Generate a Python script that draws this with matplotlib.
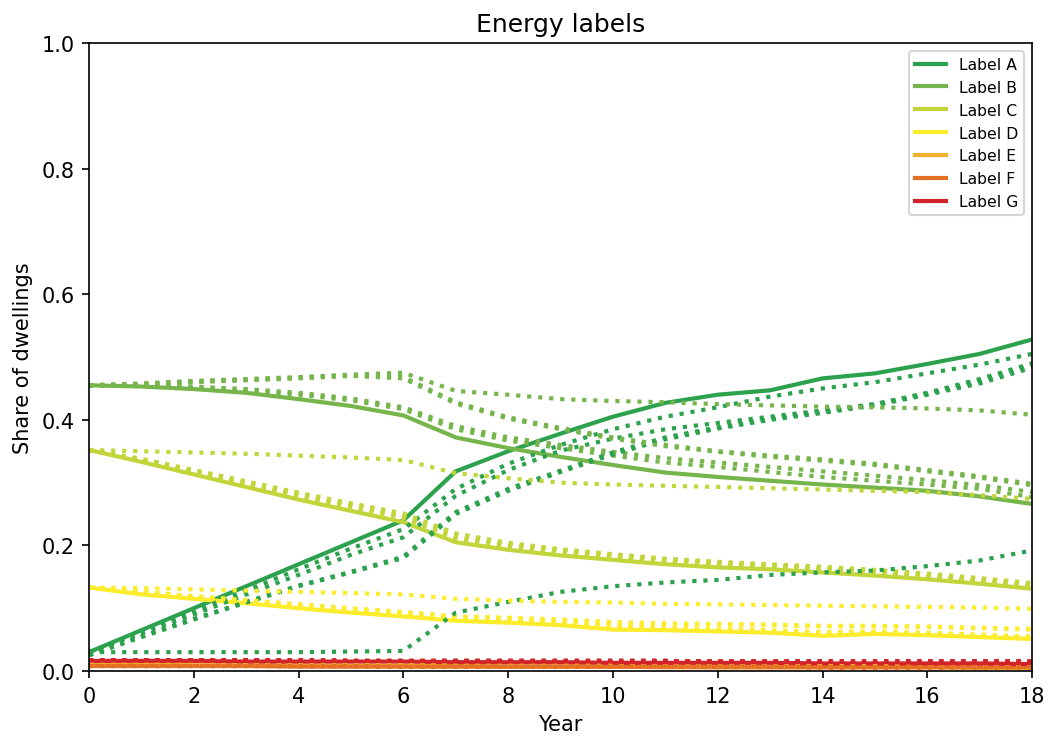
import numpy as np
import matplotlib
matplotlib.use('Agg')
import matplotlib.pyplot as plt

years = np.arange(0, 19)
labels = ['Label A', 'Label B', 'Label C', 'Label D', 'Label E', 'Label F', 'Label G']
colors = ['#2ca24f', '#76b54b', '#c2d63c', '#fcec2b', '#f0b12c', '#e66f26', '#d2232a']

# reference run (solid)
A_base = [0.030, 0.065, 0.100, 0.135, 0.170, 0.205, 0.240, 0.318, 0.350, 0.378, 0.405, 0.427, 0.440, 0.447, 0.466, 0.474, 0.489, 0.505, 0.528]
B_base = [0.455, 0.453, 0.449, 0.443, 0.433, 0.422, 0.407, 0.372, 0.355, 0.341, 0.328, 0.316, 0.309, 0.303, 0.297, 0.292, 0.287, 0.278, 0.266]
C_base = [0.352, 0.333, 0.313, 0.293, 0.273, 0.255, 0.237, 0.205, 0.193, 0.184, 0.177, 0.170, 0.165, 0.162, 0.157, 0.152, 0.146, 0.139, 0.131]
D_base = [0.133, 0.122, 0.115, 0.108, 0.100, 0.093, 0.087, 0.080, 0.077, 0.073, 0.066, 0.065, 0.063, 0.061, 0.056, 0.059, 0.057, 0.054, 0.051]
E_base = [0.010, 0.010, 0.009, 0.009, 0.009, 0.008, 0.008, 0.008, 0.007, 0.007, 0.007, 0.007, 0.006, 0.006, 0.006, 0.006, 0.006, 0.005, 0.005]
F_base = [0.008, 0.008, 0.008, 0.008, 0.007, 0.007, 0.007, 0.007, 0.007, 0.007, 0.007, 0.006, 0.006, 0.006, 0.006, 0.006, 0.006, 0.006, 0.006]
G_base = [0.016, 0.016, 0.016, 0.015, 0.015, 0.015, 0.015, 0.014, 0.014, 0.014, 0.013, 0.013, 0.013, 0.013, 0.012, 0.012, 0.012, 0.012, 0.011]

# scenario runs (dotted)
A_s1 = [0.030, 0.063, 0.095, 0.128, 0.162, 0.195, 0.226, 0.290, 0.330, 0.360, 0.385, 0.405, 0.420, 0.437, 0.450, 0.460, 0.474, 0.488, 0.505]
A_s2 = [0.030, 0.060, 0.090, 0.122, 0.153, 0.185, 0.213, 0.279, 0.320, 0.351, 0.370, 0.385, 0.395, 0.405, 0.415, 0.425, 0.443, 0.465, 0.490]
A_s3 = [0.025, 0.055, 0.083, 0.110, 0.136, 0.158, 0.182, 0.253, 0.290, 0.319, 0.348, 0.372, 0.388, 0.402, 0.413, 0.425, 0.442, 0.462, 0.487]
A_s4 = [0.025, 0.054, 0.082, 0.109, 0.135, 0.157, 0.180, 0.250, 0.287, 0.317, 0.345, 0.369, 0.386, 0.400, 0.411, 0.423, 0.440, 0.458, 0.483]
A_s5 = [0.030, 0.030, 0.030, 0.030, 0.030, 0.031, 0.032, 0.093, 0.110, 0.126, 0.135, 0.141, 0.145, 0.153, 0.157, 0.160, 0.167, 0.176, 0.192]

B_s1 = [0.455, 0.454, 0.452, 0.447, 0.440, 0.431, 0.417, 0.385, 0.367, 0.355, 0.343, 0.332, 0.325, 0.317, 0.309, 0.303, 0.297, 0.290, 0.277]
B_s2 = [0.455, 0.455, 0.453, 0.449, 0.443, 0.434, 0.420, 0.390, 0.372, 0.360, 0.349, 0.339, 0.332, 0.325, 0.318, 0.311, 0.304, 0.296, 0.285]
B_s3 = [0.455, 0.457, 0.461, 0.464, 0.467, 0.471, 0.468, 0.428, 0.404, 0.387, 0.372, 0.360, 0.350, 0.343, 0.337, 0.330, 0.320, 0.310, 0.298]
B_s4 = [0.455, 0.457, 0.460, 0.463, 0.466, 0.470, 0.466, 0.426, 0.402, 0.385, 0.370, 0.358, 0.349, 0.341, 0.335, 0.328, 0.318, 0.308, 0.296]
B_s5 = [0.455, 0.458, 0.462, 0.465, 0.468, 0.472, 0.475, 0.446, 0.440, 0.433, 0.430, 0.428, 0.425, 0.423, 0.421, 0.420, 0.418, 0.415, 0.408]

C_s1 = [0.352, 0.335, 0.316, 0.297, 0.278, 0.261, 0.244, 0.211, 0.198, 0.189, 0.181, 0.174, 0.169, 0.166, 0.161, 0.156, 0.150, 0.143, 0.135]
C_s2 = [0.352, 0.336, 0.317, 0.299, 0.280, 0.263, 0.246, 0.213, 0.200, 0.191, 0.183, 0.176, 0.171, 0.168, 0.163, 0.158, 0.152, 0.145, 0.137]
C_s3 = [0.352, 0.337, 0.319, 0.301, 0.283, 0.266, 0.250, 0.218, 0.203, 0.193, 0.185, 0.178, 0.173, 0.169, 0.165, 0.160, 0.154, 0.147, 0.139]
C_s4 = [0.352, 0.338, 0.320, 0.302, 0.284, 0.267, 0.251, 0.219, 0.204, 0.194, 0.186, 0.179, 0.174, 0.170, 0.166, 0.161, 0.155, 0.148, 0.140]
C_s5 = [0.352, 0.350, 0.348, 0.346, 0.343, 0.340, 0.336, 0.315, 0.307, 0.300, 0.297, 0.295, 0.293, 0.291, 0.289, 0.287, 0.285, 0.280, 0.274]

D_s1 = [0.133, 0.124, 0.117, 0.110, 0.103, 0.096, 0.090, 0.083, 0.080, 0.076, 0.070, 0.068, 0.066, 0.064, 0.060, 0.062, 0.060, 0.057, 0.054]
D_s2 = [0.133, 0.125, 0.118, 0.111, 0.104, 0.097, 0.091, 0.084, 0.081, 0.077, 0.071, 0.069, 0.067, 0.065, 0.062, 0.063, 0.061, 0.058, 0.055]
D_s3 = [0.133, 0.126, 0.119, 0.112, 0.106, 0.099, 0.093, 0.086, 0.084, 0.081, 0.077, 0.075, 0.074, 0.073, 0.071, 0.071, 0.070, 0.068, 0.066]
D_s4 = [0.133, 0.126, 0.119, 0.113, 0.106, 0.100, 0.094, 0.087, 0.085, 0.082, 0.078, 0.076, 0.075, 0.074, 0.072, 0.072, 0.071, 0.069, 0.067]
D_s5 = [0.133, 0.132, 0.130, 0.128, 0.126, 0.124, 0.122, 0.115, 0.112, 0.110, 0.109, 0.107, 0.106, 0.105, 0.104, 0.103, 0.102, 0.101, 0.099]

E_alt = [0.010, 0.010, 0.010, 0.009, 0.009, 0.009, 0.009, 0.008, 0.008, 0.008, 0.008, 0.007, 0.007, 0.007, 0.007, 0.007, 0.006, 0.006, 0.006]
F_alt = [0.008, 0.008, 0.008, 0.008, 0.008, 0.008, 0.007, 0.007, 0.007, 0.007, 0.007, 0.007, 0.007, 0.007, 0.006, 0.006, 0.006, 0.006, 0.006]
G_alt = [0.017, 0.017, 0.017, 0.017, 0.017, 0.016, 0.016, 0.016, 0.016, 0.016, 0.016, 0.016, 0.015, 0.015, 0.015, 0.015, 0.015, 0.015, 0.015]

base = [A_base, B_base, C_base, D_base, E_base, F_base, G_base]
scenarios = [
    [A_s1, B_s1, C_s1, D_s1, E_alt, F_alt, G_alt],
    [A_s2, B_s2, C_s2, D_s2, E_alt, F_alt, G_alt],
    [A_s3, B_s3, C_s3, D_s3, E_alt, F_alt, G_alt],
    [A_s4, B_s4, C_s4, D_s4, E_alt, F_alt, G_alt],
    [A_s5, B_s5, C_s5, D_s5, E_alt, F_alt, G_alt],
]

fig = plt.figure(figsize=(7.007, 4.933), dpi=150)
ax = fig.add_subplot(111)
fig.subplots_adjust(left=0.0847, right=0.982, top=0.9405, bottom=0.0919)

for vals, lab, col in zip(base, labels, colors):
    ax.plot(years, vals, c=col, lw=2, label=lab)

for scen in scenarios:
    for vals, col in zip(scen, colors):
        ax.plot(years, vals, c=col, lw=2, ls=':')

ax.set_xlim(0, 18)
ax.set_ylim(0, 1.0)
ax.set_xticks(np.arange(0, 19, 2))
ax.set_xlabel('Year')
ax.set_ylabel('Share of dwellings')
ax.set_title('Energy labels')
ax.legend(loc='upper right', fontsize=7.5)

fig.savefig('out.png', dpi=150)
plt.close()
